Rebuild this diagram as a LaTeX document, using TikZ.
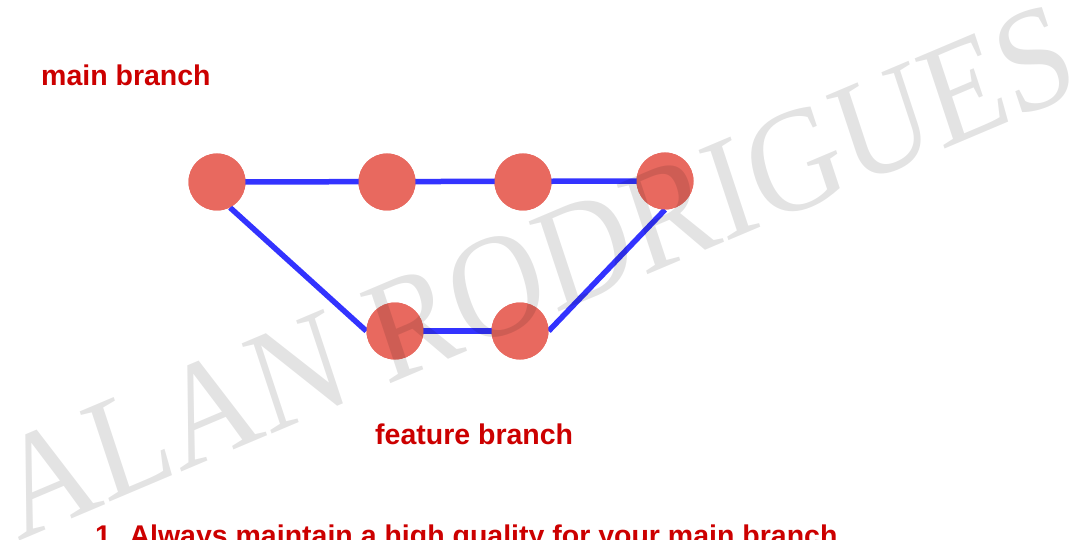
\documentclass[tikz,border=0pt]{standalone}
\usepackage{fontspec}
\setmainfont{Liberation Sans}
\newfontfamily\wmfont{Liberation Serif}
\definecolor{nodered}{HTML}{E8695F}
\definecolor{linkblue}{HTML}{3333FF}
\definecolor{textred}{HTML}{CC0000}
\begin{document}
\begin{tikzpicture}[x=1pt,y=-1pt,
  commit/.style={circle,fill=nodered,minimum size=57pt,inner sep=0pt},
  link/.style={draw=linkblue,line width=5.5pt},
  label/.style={text=textred,font=\bfseries\fontsize{28.5}{34}\selectfont,inner sep=0pt},
  watermark/.style={text=black,text opacity=0.11,font=\wmfont\fontsize{147}{155}\selectfont,inner sep=0pt}]
\useasboundingbox (0,0) rectangle (1073,540);
\clip (0,0) rectangle (1073,540);
\fill[white] (0,0) rectangle (1073,540);
% commits (named anchors)
\node[commit] (m1) at (217,182) {};
\node[commit] (m2) at (387,182) {};
\node[commit] (m3) at (523,182) {};
\node[commit] (m4) at (665,181) {};
\node[commit] (f1) at (395,331) {};
\node[commit] (f2) at (520,331) {};
% links
\draw[link] (m1.center) -- (m4.center);
\draw[link] (m1.-63) -- (f1.west);
\draw[link] (f1.center) -- (f2.center);
\draw[link] (f2.east) -- (m4.south);
% commits on top of links
\foreach \p in {m1,m2,m3,m4,f1,f2}
  \fill[nodered] (\p) circle (28.5pt);
% labels
\node[label,anchor=base west] (mainlbl) at (41,86) {main branch};
\node[label,anchor=base west] (featlbl) at (375,444) {feature branch};
\node[label,anchor=base west] (rule1) at (95,545) {1. Always maintain a high quality for your main branch};
% watermark
\begin{scope}[shift={(536,271)},xscale=0.884,transform shape]
\node[watermark,rotate=20.5] (wm) at (0,0) {ALAN RODRIGUES};
\end{scope}
\end{tikzpicture}
\end{document}
